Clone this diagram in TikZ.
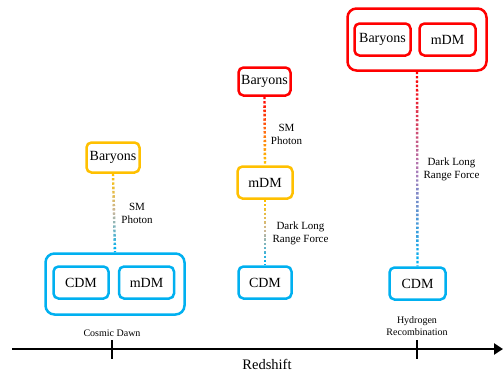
\documentclass[tikz,border=0pt]{standalone}
\usepackage{fontspec}
\setmainfont{Liberation Serif}
\usetikzlibrary{calc,arrows.meta}
\definecolor{boxred}{HTML}{FF0000}
\definecolor{boxorange}{HTML}{FFC000}
\definecolor{boxblue}{HTML}{00B0F0}
\definecolor{midtan}{HTML}{C8B69E}
\definecolor{midflame}{HTML}{FF6A10}
\definecolor{midviolet}{HTML}{B07CB8}
\tikzset{
  species/.style={draw,rounded corners=5pt,line width=2.5pt,minimum width=55pt,
    minimum height=32pt,inner sep=0pt,font=\fontsize{14}{16}\selectfont},
  group/.style={draw,rounded corners=9pt,line width=2.5pt,minimum width=139pt,
    minimum height=61pt,inner sep=0pt},
  dotline/.style={line width=2.4pt,dash pattern=on 2.4pt off 1.9pt},
  coupling/.style={align=center,font=\fontsize{11}{13}\selectfont},
  epoch/.style={align=center,font=\fontsize{10}{12}\selectfont}
}

\begin{document}
\begin{tikzpicture}[x=1pt,y=-1pt]
\newcommand{\fadeline}[5]{% from, to, top colour, middle colour, bottom colour
  \foreach \k in {0,...,19}{
    \pgfmathtruncatemacro\p{abs(2*\k-19)*100/19}
    \ifnum\k<10 \colorlet{dotc}{#3!\p!#4}\else\colorlet{dotc}{#5!\p!#4}\fi
    \begin{scope}
      \clip ($(#1)!{\k/20}!(#2)+(-4,0)$) rectangle ($(#1)!{(\k+1)/20}!(#2)+(4,0)$);
      \draw[dotline,dotc] (#1) -- (#2);
    \end{scope}}
}
  \useasboundingbox (0,0) rectangle (504,373);

  % Axis
  \coordinate (zlo) at (12,349);
  \coordinate (zhi) at (503,349);
  \draw[line width=2.5pt,-{Triangle[length=9pt,width=11pt]}] (zlo) -- (zhi);
  \draw[line width=2pt] (112,340) -- (112,359);
  \draw[line width=2pt] (417,340) -- (417,359);
  \node[font=\fontsize{14.5}{16}\selectfont] (redshift) at (267,364) {Redshift};

  % Cosmic dawn
  \node[group,draw=boxblue] (gL) at (115,284) {};
  \node[species,draw=boxblue] (cL) at (81,282.5) {CDM};
  \node[species,draw=boxblue] (mL) at (146.5,282.5) {mDM};
  \node[species,draw=boxorange,minimum width=53pt,minimum height=30pt] (bL) at (113,157.5) {Baryons};
  \fadeline{bL.south}{gL.north}{boxorange}{midtan}{boxblue}
  \node[coupling] (sL) at (137,213.5) {SM\\Photon};
  \node[epoch] (eL) at (112,333) {Cosmic Dawn};

  % In between
  \node[species,draw=boxred,minimum width=52pt,minimum height=28pt] (bM) at (264.5,81.5) {Baryons};
  \node[species,draw=boxorange] (mM) at (265,182.5) {mDM};
  \node[species,draw=boxblue,minimum width=53pt] (cM) at (265,282.5) {CDM};
  \fadeline{bM.south}{mM.north}{boxred}{midflame}{boxorange}
  \fadeline{mM.south}{cM.north}{boxorange}{midtan}{boxblue}
  \node[coupling] (sM) at (286.5,134.5) {SM\\Photon};
  \node[coupling] (dM) at (300.5,233.5) {Dark Long\\Range Force};

  % Hydrogen recombination
  \node[group,draw=boxred,minimum height=62pt] (gR) at (417,39.5) {};
  \node[species,draw=boxred,minimum width=56pt] (bR) at (382.5,39.5) {Baryons};
  \node[species,draw=boxred,minimum width=56pt] (mR) at (447.5,39.5) {mDM};
  \node[species,draw=boxblue,minimum width=56pt] (cR) at (417.5,283.5) {CDM};
  \fadeline{gR.south}{cR.north}{boxred}{midviolet}{boxblue}
  \node[coupling] (dR) at (451.5,169.5) {Dark Long\\Range Force};
  \node[epoch] (eR) at (417,326.5) {Hydrogen\\Recombination};
\end{tikzpicture}
\end{document}
